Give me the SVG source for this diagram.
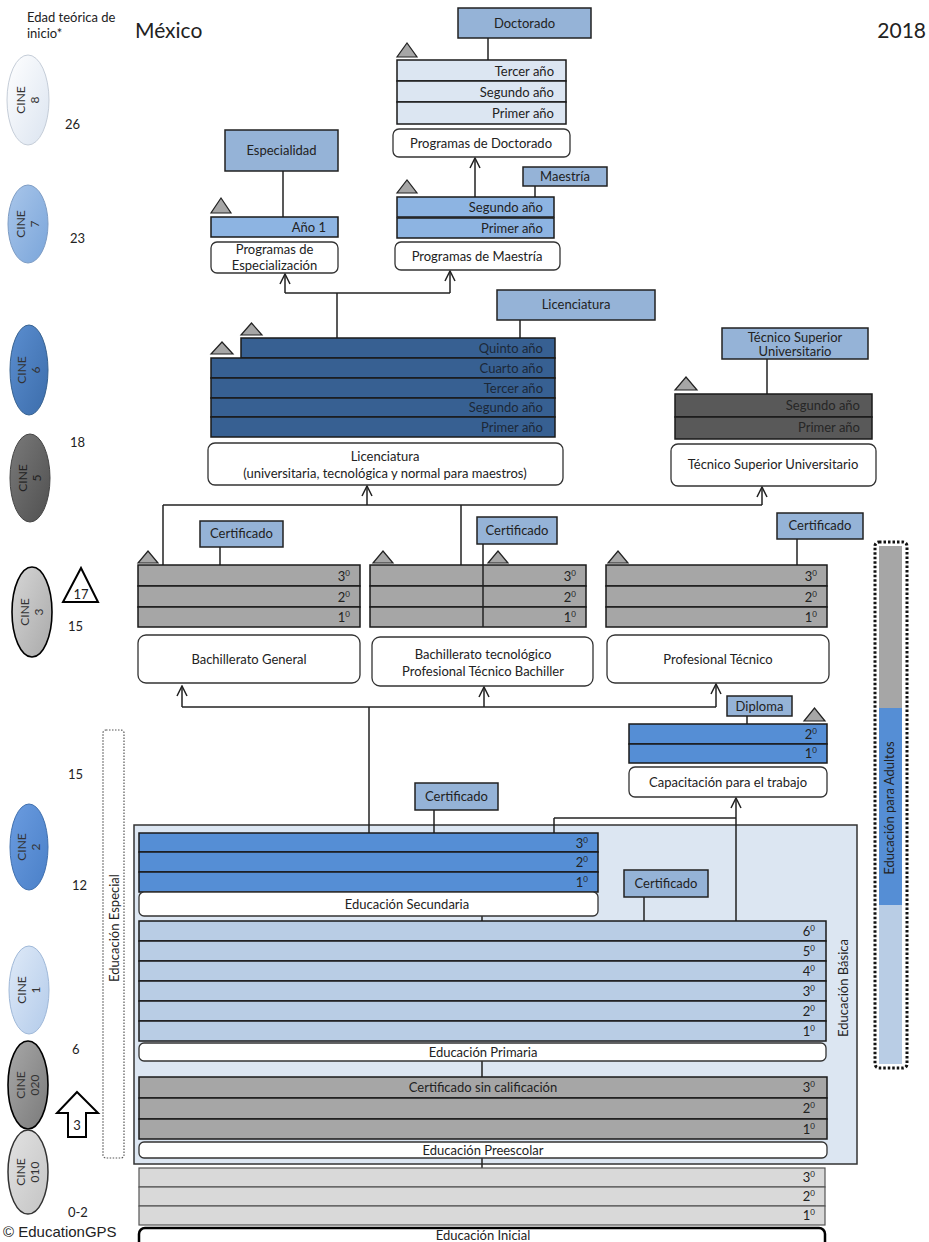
<svg xmlns="http://www.w3.org/2000/svg" width="929" height="1242" viewBox="0 0 929 1242">
<defs>
<style>
text{font-family:Lato,"Open Sans","Liberation Sans",sans-serif;font-size:13px;fill:#222}
.r{text-anchor:end}
.c{text-anchor:middle}
.bar{stroke:#1a1a1a;stroke-width:1.5}
.wbox{fill:#fff;stroke:#333;stroke-width:1.3}
.lbl{fill:#95b3d7;stroke:#222;stroke-width:1.5}
.tri{fill:#a6a6a6;stroke:#222;stroke-width:1.2}
.conn{fill:none;stroke:#222;stroke-width:1.5}
.arr{fill:none;stroke:#222;stroke-width:1.5;marker-end:url(#ah)}
.phd{fill:#dce6f2}
.msc{fill:#8db4e2}
.lic{fill:#376092}
.tsu{fill:#595959}
.bach{fill:#a6a6a6}
.cap{fill:#558ed5}
.pri{fill:#b9cde5}
.ini{fill:#d9d9d9;stroke:#555;stroke-width:1.2}
.cine{font-size:12px;fill:#333}
</style>
<marker id="ah" viewBox="0 0 12 12" refX="11" refY="6" markerWidth="12" markerHeight="12" orient="auto" markerUnits="userSpaceOnUse">
<path d="M1,1 L11,6 L1,11" fill="none" stroke="#222" stroke-width="1.5"/>
</marker>
<linearGradient id="g8" x1="0" y1="0" x2="1" y2="1"><stop offset="0" stop-color="#ffffff"/><stop offset="1" stop-color="#dbe4f0"/></linearGradient>
<linearGradient id="g7" x1="0" y1="0" x2="1" y2="1"><stop offset="0" stop-color="#a9c6ea"/><stop offset="1" stop-color="#7aa5da"/></linearGradient>
<linearGradient id="g6" x1="0" y1="0" x2="1" y2="1"><stop offset="0" stop-color="#5b8ed0"/><stop offset="1" stop-color="#3c6dab"/></linearGradient>
<linearGradient id="g5" x1="0" y1="0" x2="1" y2="1"><stop offset="0" stop-color="#7a7a7a"/><stop offset="1" stop-color="#505050"/></linearGradient>
<linearGradient id="g3" x1="0" y1="0" x2="1" y2="1"><stop offset="0" stop-color="#d6d6d6"/><stop offset="1" stop-color="#a9a9a9"/></linearGradient>
<linearGradient id="g2" x1="0" y1="0" x2="1" y2="1"><stop offset="0" stop-color="#6b9ce0"/><stop offset="1" stop-color="#4a80c8"/></linearGradient>
<linearGradient id="g1" x1="0" y1="0" x2="1" y2="1"><stop offset="0" stop-color="#dfeaf8"/><stop offset="1" stop-color="#b3cbea"/></linearGradient>
<linearGradient id="g020" x1="0" y1="0" x2="1" y2="1"><stop offset="0" stop-color="#a8a8a8"/><stop offset="1" stop-color="#7a7a7a"/></linearGradient>
<linearGradient id="g010" x1="0" y1="0" x2="1" y2="1"><stop offset="0" stop-color="#e2e2e2"/><stop offset="1" stop-color="#c4c4c4"/></linearGradient>
</defs>
<rect width="929" height="1242" fill="#fff"/>

<!-- Header -->
<g id="header">
<text x="27" y="22">Edad teórica de</text>
<text x="27" y="38">inicio*</text>
<text x="135" y="38" style="font-size:21px">México</text>
<text x="926" y="38" class="r" style="font-size:21px">2018</text>
<text x="3" y="1237" style="font-family:'Liberation Sans',Arial,sans-serif;font-size:15px">© EducationGPS</text>
</g>

<!-- CINE levels -->
<g id="cine">
<ellipse cx="28" cy="100" rx="21" ry="45" fill="url(#g8)" stroke="#c5cdd8" stroke-width="1"/>
<g transform="translate(28,100) rotate(-90)"><text class="c cine" x="0" y="-3">CINE</text><text class="c cine" x="0" y="11">8</text></g>
<ellipse cx="28" cy="224" rx="20" ry="39" fill="url(#g7)" stroke="#7d9cc4" stroke-width="1"/>
<g transform="translate(28,224) rotate(-90)"><text class="c cine" x="0" y="-3">CINE</text><text class="c cine" x="0" y="11">7</text></g>
<ellipse cx="29" cy="370" rx="19" ry="45" fill="url(#g6)" stroke="#35608f" stroke-width="1"/>
<g transform="translate(29,370) rotate(-90)"><text class="c cine" x="0" y="-3">CINE</text><text class="c cine" x="0" y="11">6</text></g>
<ellipse cx="30" cy="478" rx="20" ry="44" fill="url(#g5)" stroke="#444" stroke-width="1"/>
<g transform="translate(30,478) rotate(-90)"><text class="c cine" x="0" y="-3" style="fill:#222">CINE</text><text class="c cine" x="0" y="11" style="fill:#222">5</text></g>
<ellipse cx="32" cy="612" rx="20" ry="45" fill="url(#g3)" stroke="#000" stroke-width="1.6"/>
<g transform="translate(32,612) rotate(-90)"><text class="c cine" x="0" y="-3">CINE</text><text class="c cine" x="0" y="11">3</text></g>
<ellipse cx="29" cy="847" rx="19" ry="43" fill="url(#g2)" stroke="#3f6fae" stroke-width="1"/>
<g transform="translate(29,847) rotate(-90)"><text class="c cine" x="0" y="-3">CINE</text><text class="c cine" x="0" y="11">2</text></g>
<ellipse cx="29" cy="990" rx="20" ry="44" fill="url(#g1)" stroke="#9fb8d8" stroke-width="1"/>
<g transform="translate(29,990) rotate(-90)"><text class="c cine" x="0" y="-3">CINE</text><text class="c cine" x="0" y="11">1</text></g>
<ellipse cx="28" cy="1085" rx="20" ry="44" fill="url(#g020)" stroke="#000" stroke-width="1.6"/>
<g transform="translate(28,1085) rotate(-90)"><text class="c cine" x="0" y="-3">CINE</text><text class="c cine" x="0" y="11">020</text></g>
<ellipse cx="28" cy="1172" rx="20" ry="42" fill="url(#g010)" stroke="#333" stroke-width="1.5"/>
<g transform="translate(28,1172) rotate(-90)"><text class="c cine" x="0" y="-3">CINE</text><text class="c cine" x="0" y="11">010</text></g>
</g>

<!-- Ages -->
<g id="ages">
<text x="65" y="129">26</text>
<text x="70" y="243">23</text>
<text x="70" y="447">18</text>
<polygon points="63,602 98,602 81,568" fill="#fff" stroke="#000" stroke-width="2"/>
<text x="81" y="599" class="c">17</text>
<text x="68" y="631">15</text>
<text x="68" y="779">15</text>
<text x="72" y="890">12</text>
<text x="72" y="1054">6</text>
<polygon points="77,1092 98,1113 86,1113 86,1137 68,1137 68,1113 57,1113" fill="#fff" stroke="#000" stroke-width="2"/>
<text x="77" y="1130" class="c">3</text>
<text x="68" y="1217">0-2</text>
</g>

<!-- Educación Especial -->
<g id="especial">
<rect x="103" y="730" width="21" height="428" rx="3" fill="none" stroke="#555" stroke-width="1.2" stroke-dasharray="1.5 1.5"/>
<text x="119" y="928" class="c" transform="rotate(-90 119 928)">Educación Especial</text>
</g>

<!-- Educación para Adultos -->
<g id="adultos">
<rect x="879" y="546" width="23" height="162" fill="#a6a6a6"/>
<rect x="879" y="708" width="23" height="197" fill="#558ed5"/>
<rect x="879" y="905" width="23" height="159" fill="#b9cde5"/>
<rect x="875" y="542" width="32" height="526" rx="4" fill="none" stroke="#111" stroke-width="3" stroke-dasharray="2.5 2"/>
<text x="894" y="808" class="c" transform="rotate(-90 894 808)">Educación para Adultos</text>
</g>

<!-- Educación Básica frame -->
<g id="basica">
<rect x="134" y="825" width="723" height="339" fill="#dce6f2" stroke="#333" stroke-width="1.5"/>
<text x="848" y="988" class="c" transform="rotate(-90 848 988)">Educación Básica</text>
</g>

<!-- Connectors -->
<g id="connectors">
<line class="conn" x1="488" y1="38" x2="488" y2="60"/>
<line class="conn" x1="535" y1="186" x2="535" y2="197"/>
<line class="arr" x1="475" y1="197" x2="475" y2="158"/>
<line class="conn" x1="283" y1="171" x2="283" y2="217"/>
<line class="conn" x1="337" y1="338" x2="337" y2="293"/>
<line class="conn" x1="285" y1="293" x2="450" y2="293"/>
<line class="arr" x1="285" y1="293" x2="285" y2="274"/>
<line class="arr" x1="450" y1="293" x2="450" y2="271"/>
<line class="conn" x1="520" y1="319" x2="520" y2="338"/>
<line class="conn" x1="767" y1="359" x2="767" y2="394"/>
<line class="conn" x1="163" y1="505" x2="762" y2="505"/>
<line class="conn" x1="163" y1="505" x2="163" y2="565"/>
<line class="conn" x1="461" y1="505" x2="461" y2="565"/>
<line class="arr" x1="367" y1="505" x2="367" y2="486"/>
<line class="arr" x1="762" y1="505" x2="762" y2="487"/>
<line class="conn" x1="220" y1="547" x2="220" y2="565"/>
<line class="conn" x1="483" y1="544" x2="483" y2="627"/>
<line class="conn" x1="797" y1="539" x2="797" y2="565"/>
<line class="conn" x1="182" y1="707" x2="716" y2="707"/>
<line class="arr" x1="182" y1="707" x2="182" y2="686"/>
<line class="arr" x1="484" y1="707" x2="484" y2="687"/>
<line class="arr" x1="716" y1="707" x2="716" y2="684"/>
<line class="conn" x1="369" y1="707" x2="369" y2="833"/>
<line class="conn" x1="747" y1="716" x2="747" y2="724"/>
<line class="arr" x1="736" y1="921" x2="736" y2="798"/>
<line class="conn" x1="554" y1="818" x2="736" y2="818"/>
<line class="conn" x1="554" y1="818" x2="554" y2="833"/>
<line class="conn" x1="434" y1="810" x2="434" y2="833"/>
<line class="conn" x1="644" y1="897" x2="644" y2="921"/>
<line class="conn" x1="482" y1="916" x2="482" y2="921"/>
<line class="conn" x1="482" y1="1061" x2="482" y2="1077"/>
<line class="conn" x1="482" y1="1158" x2="482" y2="1168"/>
</g>

<!-- Doctorado -->
<g id="doctorado">
<rect class="lbl" x="458" y="8" width="133" height="30"/>
<text x="524.5" y="28" class="c">Doctorado</text>
<polygon class="tri" points="397,57 417,57 407,43"/>
<rect class="bar phd" x="397" y="60" width="169" height="21"/>
<rect class="bar phd" x="397" y="81" width="169" height="21"/>
<rect class="bar phd" x="397" y="102" width="169" height="22"/>
<text x="554" y="75.5" class="r">Tercer año</text>
<text x="554" y="96.5" class="r">Segundo año</text>
<text x="554" y="117.5" class="r">Primer año</text>
<rect class="wbox" x="393" y="129" width="177" height="28" rx="6"/>
<text x="481" y="148" class="c">Programas de Doctorado</text>
</g>

<!-- Maestría -->
<g id="maestria">
<rect class="lbl" x="523" y="167" width="84" height="19"/>
<text x="565" y="181" class="c">Maestría</text>
<polygon class="tri" points="397,193 417,193 407,180"/>
<rect class="bar msc" x="397" y="197" width="157" height="20"/>
<rect class="bar msc" x="397" y="218" width="157" height="20"/>
<text x="543" y="212" class="r">Segundo año</text>
<text x="543" y="233" class="r">Primer año</text>
<rect class="wbox" x="395" y="242" width="165" height="28" rx="6"/>
<text x="477" y="261" class="c">Programas de Maestría</text>
</g>

<!-- Especialidad -->
<g id="especialidad">
<rect class="lbl" x="225" y="130" width="113" height="41"/>
<text x="281.5" y="155" class="c">Especialidad</text>
<polygon class="tri" points="211,213 231,213 221,198"/>
<rect class="bar msc" x="211" y="217" width="127" height="20"/>
<text x="326" y="232" class="r">Año 1</text>
<rect class="wbox" x="211" y="242" width="127" height="31" rx="6"/>
<text x="274.5" y="254" class="c">Programas de</text>
<text x="274.5" y="270" class="c">Especialización</text>
</g>

<!-- Licenciatura -->
<g id="licenciatura">
<rect class="lbl" x="497" y="290" width="158" height="30"/>
<text x="576" y="309" class="c">Licenciatura</text>
<polygon class="tri" points="241,335 262,335 251.5,323"/>
<polygon class="tri" points="211,354 233,354 222,342"/>
<rect class="bar lic" x="241" y="338" width="314" height="20"/>
<rect class="bar lic" x="211" y="358" width="344" height="20"/>
<rect class="bar lic" x="211" y="378" width="344" height="20"/>
<rect class="bar lic" x="211" y="398" width="344" height="19"/>
<rect class="bar lic" x="211" y="417" width="344" height="20"/>
<text x="543" y="353" class="r" style="fill:#1c2838">Quinto año</text>
<text x="543" y="373" class="r" style="fill:#1c2838">Cuarto año</text>
<text x="543" y="393" class="r" style="fill:#1c2838">Tercer año</text>
<text x="543" y="412" class="r" style="fill:#1c2838">Segundo año</text>
<text x="543" y="432" class="r" style="fill:#1c2838">Primer año</text>
<rect class="wbox" x="208" y="443" width="355" height="42" rx="7"/>
<text x="385" y="461" class="c">Licenciatura</text>
<text x="385" y="478" class="c">(universitaria, tecnológica y normal para maestros)</text>
</g>

<!-- Técnico Superior Universitario -->
<g id="tsu">
<rect class="lbl" x="722" y="328" width="146" height="31"/>
<text x="795" y="342" class="c">Técnico Superior</text>
<text x="795" y="356" class="c">Universitario</text>
<polygon class="tri" points="675,390 697,390 686,377"/>
<rect class="bar tsu" x="675" y="394" width="197" height="23"/>
<rect class="bar tsu" x="675" y="417" width="197" height="22"/>
<text x="860" y="410" class="r" style="fill:#262626">Segundo año</text>
<text x="860" y="432" class="r" style="fill:#262626">Primer año</text>
<rect class="wbox" x="671" y="444" width="205" height="42" rx="7"/>
<text x="773" y="469" class="c">Técnico Superior Universitario</text>
</g>

<!-- Bachillerato General -->
<g id="bach-general">
<polygon class="tri" points="138,563 158,563 148,551"/>
<rect class="lbl" x="200" y="521" width="83" height="26"/>
<text x="241.5" y="538" class="c">Certificado</text>
<rect class="bar bach" x="138" y="565" width="222" height="21"/>
<rect class="bar bach" x="138" y="586" width="222" height="21"/>
<rect class="bar bach" x="138" y="607" width="222" height="20"/>
<text x="350" y="581" class="r">3<tspan font-size="8" dy="-5">0</tspan></text>
<text x="350" y="602" class="r">2<tspan font-size="8" dy="-5">0</tspan></text>
<text x="350" y="622" class="r">1<tspan font-size="8" dy="-5">0</tspan></text>
<rect class="wbox" x="138" y="635" width="222" height="48" rx="8"/>
<text x="249" y="664" class="c">Bachillerato General</text>
</g>

<!-- Bachillerato tecnológico -->
<g id="bach-tecnologico">
<polygon class="tri" points="373,563 393,563 383,551"/>
<polygon class="tri" points="488,563 508,563 498,551"/>
<rect class="lbl" x="477" y="517" width="80" height="27"/>
<text x="517" y="535" class="c">Certificado</text>
<rect class="bar bach" x="370" y="565" width="216" height="21"/>
<rect class="bar bach" x="370" y="586" width="216" height="21"/>
<rect class="bar bach" x="370" y="607" width="216" height="20"/>
<line class="conn" x1="483" y1="565" x2="483" y2="627"/>
<text x="576" y="581" class="r">3<tspan font-size="8" dy="-5">0</tspan></text>
<text x="576" y="602" class="r">2<tspan font-size="8" dy="-5">0</tspan></text>
<text x="576" y="622" class="r">1<tspan font-size="8" dy="-5">0</tspan></text>
<rect class="wbox" x="372" y="637" width="221" height="49" rx="8"/>
<text x="483" y="659" class="c">Bachillerato tecnológico</text>
<text x="483" y="676" class="c">Profesional Técnico Bachiller</text>
</g>

<!-- Profesional Técnico -->
<g id="prof-tecnico">
<rect class="lbl" x="777" y="513" width="86" height="26"/>
<text x="820" y="530" class="c">Certificado</text>
<polygon class="tri" points="608,563 628,563 618,551"/>
<rect class="bar bach" x="606" y="565" width="221" height="21"/>
<rect class="bar bach" x="606" y="586" width="221" height="21"/>
<rect class="bar bach" x="606" y="607" width="221" height="20"/>
<text x="817" y="581" class="r">3<tspan font-size="8" dy="-5">0</tspan></text>
<text x="817" y="602" class="r">2<tspan font-size="8" dy="-5">0</tspan></text>
<text x="817" y="622" class="r">1<tspan font-size="8" dy="-5">0</tspan></text>
<rect class="wbox" x="607" y="635" width="222" height="48" rx="8"/>
<text x="718" y="664" class="c">Profesional Técnico</text>
</g>

<!-- Capacitación para el trabajo -->
<g id="capacitacion">
<rect class="lbl" x="727" y="696" width="65" height="20"/>
<text x="759.5" y="710.5" class="c">Diploma</text>
<polygon class="tri" points="804,721 825,721 814.5,708"/>
<rect class="bar cap" x="629" y="724" width="198" height="20"/>
<rect class="bar cap" x="629" y="744" width="198" height="19"/>
<text x="817" y="739" class="r">2<tspan font-size="8" dy="-5">0</tspan></text>
<text x="817" y="758" class="r">1<tspan font-size="8" dy="-5">0</tspan></text>
<rect class="wbox" x="629" y="767" width="198" height="30" rx="6"/>
<text x="728" y="786.5" class="c">Capacitación para el trabajo</text>
</g>

<!-- Educación Secundaria -->
<g id="secundaria">
<rect class="lbl" x="415" y="783" width="83" height="27"/>
<text x="456.5" y="801" class="c">Certificado</text>
<rect class="bar cap" x="139" y="833" width="459" height="19"/>
<rect class="bar cap" x="139" y="852" width="459" height="20"/>
<rect class="bar cap" x="139" y="872" width="459" height="20"/>
<text x="588" y="848" class="r">3<tspan font-size="8" dy="-5">0</tspan></text>
<text x="588" y="867" class="r">2<tspan font-size="8" dy="-5">0</tspan></text>
<text x="588" y="887" class="r">1<tspan font-size="8" dy="-5">0</tspan></text>
<rect class="wbox" x="139" y="892" width="459" height="24" rx="5"/>
<text x="407" y="909" class="c">Educación Secundaria</text>
</g>

<!-- Educación Primaria -->
<g id="primaria">
<rect class="lbl" x="624" y="870" width="84" height="27"/>
<text x="666" y="888" class="c">Certificado</text>
<rect class="bar pri" x="139" y="921" width="687" height="20"/>
<rect class="bar pri" x="139" y="941" width="687" height="20"/>
<rect class="bar pri" x="139" y="961" width="687" height="20"/>
<rect class="bar pri" x="139" y="981" width="687" height="20"/>
<rect class="bar pri" x="139" y="1001" width="687" height="20"/>
<rect class="bar pri" x="139" y="1021" width="687" height="20"/>
<text x="815" y="936" class="r">6<tspan font-size="8" dy="-5">0</tspan></text>
<text x="815" y="956" class="r">5<tspan font-size="8" dy="-5">0</tspan></text>
<text x="815" y="976" class="r">4<tspan font-size="8" dy="-5">0</tspan></text>
<text x="815" y="996" class="r">3<tspan font-size="8" dy="-5">0</tspan></text>
<text x="815" y="1016" class="r">2<tspan font-size="8" dy="-5">0</tspan></text>
<text x="815" y="1036" class="r">1<tspan font-size="8" dy="-5">0</tspan></text>
<rect class="wbox" x="139" y="1043" width="687" height="18" rx="5"/>
<text x="483" y="1057" class="c">Educación Primaria</text>
</g>

<!-- Educación Preescolar -->
<g id="preescolar">
<rect class="bar bach" x="139" y="1077" width="688" height="21"/>
<rect class="bar bach" x="139" y="1098" width="688" height="21"/>
<rect class="bar bach" x="139" y="1119" width="688" height="20"/>
<text x="483" y="1092" class="c">Certificado sin calificación</text>
<text x="815" y="1092" class="r">3<tspan font-size="8" dy="-5">0</tspan></text>
<text x="815" y="1113" class="r">2<tspan font-size="8" dy="-5">0</tspan></text>
<text x="815" y="1134" class="r">1<tspan font-size="8" dy="-5">0</tspan></text>
<rect class="wbox" x="139" y="1142" width="688" height="16" rx="5"/>
<text x="483" y="1155" class="c">Educación Preescolar</text>
</g>

<!-- Educación Inicial -->
<g id="inicial">
<rect class="ini" x="139" y="1168" width="686" height="19"/>
<rect class="ini" x="139" y="1187" width="686" height="19"/>
<rect class="ini" x="139" y="1206" width="686" height="19"/>
<text x="815" y="1182" class="r">3<tspan font-size="8" dy="-5">0</tspan></text>
<text x="815" y="1201" class="r">2<tspan font-size="8" dy="-5">0</tspan></text>
<text x="815" y="1220" class="r">1<tspan font-size="8" dy="-5">0</tspan></text>
<rect x="139" y="1228" width="686" height="30" rx="6" fill="#fff" stroke="#000" stroke-width="2.5"/>
<text x="483" y="1240" class="c">Educación Inicial</text>
</g>
</svg>
